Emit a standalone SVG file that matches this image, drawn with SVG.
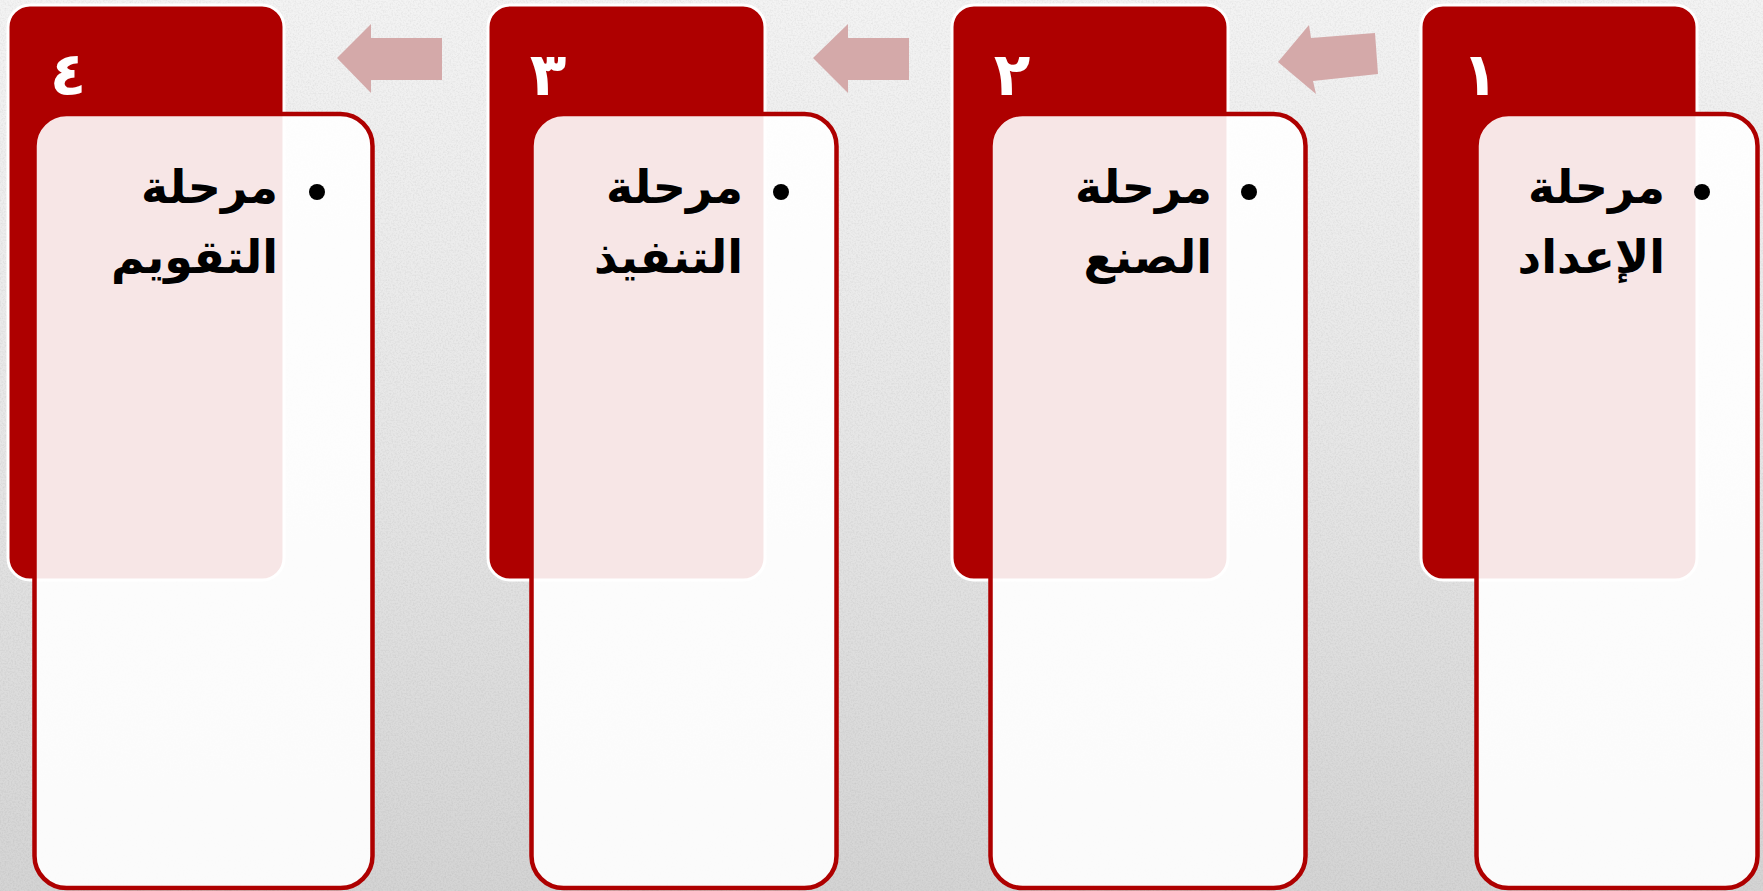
<svg xmlns="http://www.w3.org/2000/svg" width="1763" height="891" viewBox="0 0 1763 891">
<defs>
<linearGradient id="bg" x1="0" y1="0" x2="0" y2="1">
<stop offset="0" stop-color="#f3f3f3"/>
<stop offset="0.5" stop-color="#e6e6e6"/>
<stop offset="1" stop-color="#d4d4d4"/>
</linearGradient>
<filter id="noise" x="0" y="0" width="100%" height="100%">
<feTurbulence type="fractalNoise" baseFrequency="0.6" numOctaves="2" seed="3" result="n"/>
<feColorMatrix type="matrix" values="0 0 0 0 0  0 0 0 0 0  0 0 0 0 0  0 0 0 -0.9 0.55" />
</filter>
<style>
.tab{fill:#ae0000;stroke:#ffffff;stroke-width:3}
.card{fill:#ffffff;fill-opacity:0.9;stroke:#ae0000;stroke-width:4.5}
.num{fill:#ffffff;font-family:"DejaVu Sans",sans-serif;font-weight:bold;font-size:60px;text-anchor:middle}
.lbl{fill:#000000;font-family:"DejaVu Sans",sans-serif;font-weight:bold;font-size:46px;text-anchor:end}
.dot{fill:#000000}
.arr{fill:#d4a9a9}
</style>
</defs>
<rect x="0" y="0" width="1763" height="891" fill="url(#bg)"/>
<rect x="0" y="0" width="1763" height="891" fill="#000" filter="url(#noise)" opacity="0.12"/>

<g id="connectors">
<polygon class="arr" points="337,58 371,24 371,38 442,38 442,80 371,80 371,93"/>
<polygon class="arr" points="813,58 848,24 848,38 909,38 909,80 848,80 848,93"/>
<polygon class="arr" points="1278,62 1309,25 1311,38 1375,33 1378,74 1313,81 1316,94"/>
</g>

<g id="node4">
<rect class="tab" x="8" y="5" width="276" height="575" rx="22"/>
<text class="num" x="68" y="95">٤</text>
<rect class="card" x="34.5" y="114" width="338" height="774" rx="32"/>
<circle class="dot" cx="317" cy="192" r="8"/>
<text class="lbl" x="278" y="203">مرحلة</text>
<text class="lbl" x="278" y="273">التقويم</text>
</g>

<g id="node3">
<rect class="tab" x="488" y="5" width="277" height="575" rx="22"/>
<text class="num" x="548" y="95">٣</text>
<rect class="card" x="531.5" y="114" width="305" height="774" rx="32"/>
<circle class="dot" cx="781" cy="192" r="8"/>
<text class="lbl" x="743" y="203">مرحلة</text>
<text class="lbl" x="743" y="273">التنفيذ</text>
</g>

<g id="node2">
<rect class="tab" x="952" y="5" width="276" height="575" rx="22"/>
<text class="num" x="1012" y="95">٢</text>
<rect class="card" x="990.5" y="114" width="315" height="774" rx="32"/>
<circle class="dot" cx="1249" cy="192" r="8"/>
<text class="lbl" x="1212" y="203">مرحلة</text>
<text class="lbl" x="1212" y="273">الصنع</text>
</g>

<g id="node1">
<rect class="tab" x="1421" y="5" width="276" height="575" rx="22"/>
<text class="num" x="1480" y="95">١</text>
<rect class="card" x="1476.5" y="114" width="281" height="774" rx="32"/>
<circle class="dot" cx="1702" cy="192" r="8"/>
<text class="lbl" x="1665" y="203">مرحلة</text>
<text class="lbl" x="1665" y="273">الإعداد</text>
</g>
</svg>
